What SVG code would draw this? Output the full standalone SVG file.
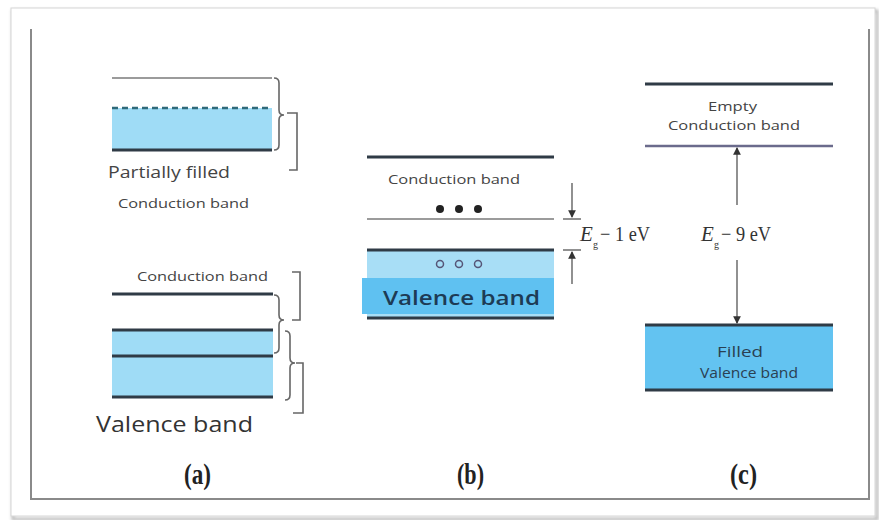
<svg xmlns="http://www.w3.org/2000/svg" width="879" height="520" viewBox="0 0 879 520">
  <style>
    .sans { font-family: "Open Sans", "Liberation Sans", sans-serif; }
    .serif { font-family: "Liberation Serif", serif; }
    .lbl { fill: #444; font-size: 13px; }
    .thick { stroke: #2f3b46; stroke-width: 3; fill: none; }
    .thin { stroke: #7a7a7a; stroke-width: 1.5; fill: none; }
    .brace { stroke: #666; stroke-width: 1.6; fill: none; }
    .arrow { stroke: #555; stroke-width: 1.3; fill: none; }
    .cap { font-size: 29px; fill: #222; font-weight: bold; }
    .eg { font-size: 21px; fill: #333; }
    .sub { font-size: 10px; fill: #333; }
  </style>
  <defs>
    <marker id="head" viewBox="0 0 8 8" refX="7" refY="4" markerWidth="6" markerHeight="6" orient="auto">
      <path d="M0,0 L8,4 L0,8 z" fill="#333"/>
    </marker>
    <filter id="shadow" x="-5%" y="-5%" width="110%" height="110%">
      <feGaussianBlur stdDeviation="1.5"/>
    </filter>
  </defs>

  <rect width="879" height="520" fill="#ffffff"/>

  <!-- outer frame with soft shadow -->
  <g id="frame">
    <rect x="13" y="11" width="864" height="508" fill="none" stroke="#bbb" stroke-width="3" filter="url(#shadow)"/>
    <rect x="11" y="8" width="864" height="508" fill="#fff" stroke="#d6d6d6" stroke-width="1"/>
    <path d="M31,29 V499 H869 V29" fill="none" stroke="#8a8a8a" stroke-width="2"/>
  </g>

  <!-- (a) metal -->
  <g id="metal-partial">
    <line x1="112" y1="78" x2="272" y2="78" class="thin"/>
    <rect x="112" y="108" width="160" height="42" fill="#9fdcf6"/>
    <line x1="112" y1="108" x2="272" y2="108" stroke="#2f6a7a" stroke-width="2.5" stroke-dasharray="6,4"/>
    <line x1="112" y1="150" x2="272" y2="150" class="thick"/>
    <text x="108" y="178" class="sans" font-size="16" fill="#444" textLength="122" lengthAdjust="spacingAndGlyphs">Partially filled</text>
    <text x="118" y="208" class="sans lbl" textLength="131" lengthAdjust="spacingAndGlyphs">Conduction band</text>
  </g>
  <g id="metal-overlap">
    <text x="137" y="281" class="sans lbl" textLength="131" lengthAdjust="spacingAndGlyphs">Conduction band</text>
    <line x1="112" y1="294" x2="273" y2="294" class="thick"/>
    <rect x="112" y="330" width="161" height="67" fill="#9fdcf6"/>
    <line x1="112" y1="330" x2="273" y2="330" class="thick"/>
    <line x1="112" y1="356" x2="273" y2="356" class="thick"/>
    <line x1="112" y1="397" x2="273" y2="397" class="thick"/>
    <text x="96" y="432" class="sans" font-size="21" fill="#333" textLength="157" lengthAdjust="spacingAndGlyphs">Valence band</text>
  </g>

  <!-- (b) semiconductor -->
  <g id="semiconductor">
    <line x1="367" y1="157" x2="554" y2="157" class="thick"/>
    <text x="388" y="184" class="sans lbl" textLength="132" lengthAdjust="spacingAndGlyphs">Conduction band</text>
    <circle cx="440" cy="209" r="4" fill="#222"/>
    <circle cx="459" cy="209" r="4" fill="#222"/>
    <circle cx="478" cy="209" r="4" fill="#222"/>
    <line x1="367" y1="219" x2="554" y2="219" class="thin"/>
    <rect x="367" y="250" width="187" height="68" fill="#a8def6"/>
    <rect x="362" y="278" width="192" height="36" fill="#5fc1f1"/>
    <line x1="367" y1="250" x2="554" y2="250" class="thick"/>
    <circle cx="440" cy="264" r="3.5" fill="none" stroke="#557" stroke-width="1.5"/>
    <circle cx="459" cy="264" r="3.5" fill="none" stroke="#557" stroke-width="1.5"/>
    <circle cx="478" cy="264" r="3.5" fill="none" stroke="#557" stroke-width="1.5"/>
    <text x="383" y="305" class="sans" font-size="20" font-weight="600" fill="#1d3b55" textLength="157" lengthAdjust="spacingAndGlyphs">Valence band</text>
    <line x1="367" y1="318" x2="554" y2="318" class="thick"/>
  </g>

  <!-- (c) insulator -->
  <g id="insulator">
    <line x1="645" y1="84" x2="833" y2="84" class="thick"/>
    <text x="708" y="111" class="sans lbl" textLength="49" lengthAdjust="spacingAndGlyphs">Empty</text>
    <text x="668" y="130" class="sans lbl" textLength="132" lengthAdjust="spacingAndGlyphs">Conduction band</text>
    <line x1="645" y1="146" x2="833" y2="146" stroke="#6b6b8c" stroke-width="2.5"/>
    <rect x="645" y="325" width="188" height="65" fill="#63c3f1"/>
    <line x1="645" y1="325" x2="833" y2="325" class="thick"/>
    <line x1="645" y1="390" x2="833" y2="390" class="thick"/>
    <text x="717" y="357" class="sans" font-size="15" fill="#2a4052" textLength="46" lengthAdjust="spacingAndGlyphs">Filled</text>
    <text x="700" y="378" class="sans" font-size="15" fill="#2a4052" textLength="98" lengthAdjust="spacingAndGlyphs">Valence band</text>
  </g>

  <!-- braces, gap arrows and gap labels -->
  <g id="connectors">
    <path class="brace" d="M274,78 q5,0 5,5 v27 q0,5 5,5 q-5,0 -5,5 v25 q0,5 -5,5"/>
    <path class="brace" d="M287,113 h10 v57 h-8"/>
    <path class="brace" d="M292,272 h8 v48 h-8"/>
    <path class="brace" d="M274,295 q5,0 5,5 v15 q0,5 5,5 q-5,0 -5,5 v23 q0,5 -5,5"/>
    <path class="brace" d="M285,331 q5,0 5,5 v22 q0,5 5,5 q-5,0 -5,5 v27 q0,5 -5,5"/>
    <path class="brace" d="M296,363 h7 v50 h-10"/>

    <line x1="572" y1="183" x2="572" y2="217" class="arrow" marker-end="url(#head)"/>
    <line x1="563" y1="219" x2="581" y2="219" class="arrow"/>
    <line x1="563" y1="250" x2="581" y2="250" class="arrow"/>
    <line x1="572" y1="284" x2="572" y2="252" class="arrow" marker-end="url(#head)"/>
    <text x="580" y="241" class="serif eg" font-style="italic">E</text>
    <text x="593" y="248" class="serif sub">g</text>
    <text x="600" y="241" class="serif eg" textLength="50" lengthAdjust="spacingAndGlyphs">− 1 eV</text>

    <line x1="737" y1="205" x2="737" y2="148" class="arrow" marker-end="url(#head)"/>
    <line x1="737" y1="260" x2="737" y2="323" class="arrow" marker-end="url(#head)"/>
    <text x="701" y="241" class="serif eg" font-style="italic">E</text>
    <text x="714" y="248" class="serif sub">g</text>
    <text x="721" y="241" class="serif eg" textLength="50" lengthAdjust="spacingAndGlyphs">− 9 eV</text>

    <text x="184" y="484" class="serif cap" textLength="27" lengthAdjust="spacingAndGlyphs">(a)</text>
    <text x="457" y="484" class="serif cap" textLength="27" lengthAdjust="spacingAndGlyphs">(b)</text>
    <text x="730" y="484" class="serif cap" textLength="27" lengthAdjust="spacingAndGlyphs">(c)</text>
  </g>
</svg>
